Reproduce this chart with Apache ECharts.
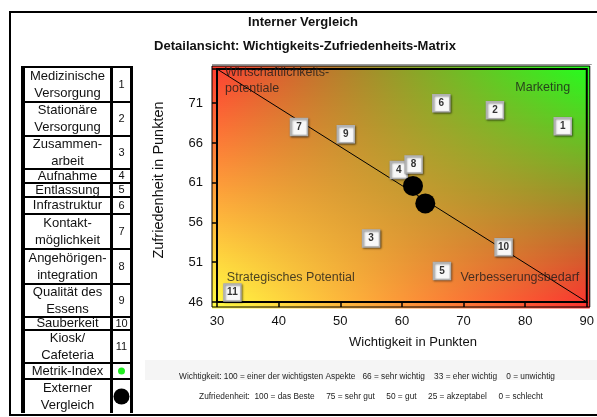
<!DOCTYPE html>
<html><head><meta charset="utf-8">
<script src="https://cdn.jsdelivr.net/npm/echarts@6/dist/echarts.min.js"></script>
<style>html,body{margin:0;padding:0;background:#fff}#c{width:597px;height:417px}</style>
</head><body><div id="c"></div>
<script>
// ---- data ----
const titleText = 'Interner Vergleich';
const subtitleText = 'Detailansicht: Wichtigkeits-Zufriedenheits-Matrix';
const xName = 'Wichtigkeit in Punkten';
const yName = 'Zufriedenheit in Punkten';
const xMin = 30, xMax = 90, xStep = 10;
const yMin = 46, yMax = 75.3, yStep = 5;
const itemIds = ['1','2','3','4','5','6','7','8','9','10','11'];
const itemX = [86.1, 75.1, 55.0, 59.5, 66.5, 66.4, 43.3, 61.9, 50.9, 76.5, 32.5];
const itemY = [68.1, 70.1, 54.0, 62.6, 49.9, 71.0, 68.0, 63.3, 67.1, 52.9, 47.2];
const extX = [61.8, 63.8];
const extY = [60.6, 58.4];
const legendNames = ['Medizinische\nVersorgung','Stationäre\nVersorgung','Zusammen-\narbeit','Aufnahme','Entlassung','Infrastruktur','Kontakt-\nmöglichkeit','Angehörigen-\nintegration','Qualität des\nEssens','Sauberkeit','Kiosk/\nCafeteria','Metrik-Index','Externer\nVergleich'];
const legendKeys = ['1','2','3','4','5','6','7','8','9','10','11','dot','circle'];
const quadNames = ['Wirtschaftlichkeits-\npotentiale','Marketing','Strategisches Potential','Verbesserungsbedarf'];
const quadX = [31.3, 78.4, 31.6, 69.5];
const quadY = [73.8, 73.0, 49.1, 49.1];
const diagX = [30, 90];
const diagY = [75.3, 46];
const footnotes = [
  'Wichtigkeit: 100 = einer der wichtigsten Aspekte   66 = sehr wichtig    33 = eher wichtig    0 = unwichtig',
  'Zufriedenheit:  100 = das Beste     75 = sehr gut     50 = gut     25 = akzeptabel     0 = schlecht'
];

// ---- chart ----
const FONT = '"Liberation Sans", Arial, sans-serif';
const chart = echarts.init(document.getElementById('c'), null, {renderer: 'canvas'});
const option = {
  animation: false,
  backgroundColor: '#fff',
  grid: {left: 217, right: 8, top: 69, bottom: 115, show: false},
  xAxis: {
    type: 'value', min: xMin, max: xMax, interval: xStep,
    axisLine: {show: true, onZero: false, lineStyle: {color: '#000', width: 1.5}},
    axisTick: {show: true, length: 5, lineStyle: {color: '#000', width: 1.5}},
    axisLabel: {fontSize: 13, color: '#111', margin: 13, fontFamily: FONT},
    splitLine: {show: false}
  },
  yAxis: {
    type: 'value', min: yMin, max: yMax, interval: yStep,
    axisLine: {show: true, onZero: false, lineStyle: {color: '#000', width: 1.5}},
    axisTick: {show: true, length: 5, lineStyle: {color: '#000', width: 1.5}},
    axisLabel: {fontSize: 13, color: '#111', margin: 14, fontFamily: FONT,
      formatter: v => (Math.abs(v - Math.round(v)) < 1e-6 ? String(Math.round(v)) : '')},
    splitLine: {show: false}
  },
  series: [
    {type: 'line', data: diagX.map((x, i) => [x, diagY[i]]), symbol: 'none', silent: true,
     lineStyle: {color: '#000', width: 1}, z: 3},
    {type: 'scatter', data: itemX.map((x, i) => ({value: [x, itemY[i]], name: itemIds[i]})),
     symbol: 'rect', symbolSize: 17, z: 4,
     itemStyle: {color: '#f8f8f8', borderColor: '#b0b0b0', borderWidth: 1.5,
       shadowBlur: 2, shadowColor: 'rgba(0,0,0,0.45)', shadowOffsetX: 1, shadowOffsetY: 1, opacity: 1},
     label: {show: true, position: 'inside', formatter: p => p.name, fontSize: 10, fontWeight: 'bold',
       color: '#333', fontFamily: FONT}},
    {type: 'scatter', data: extX.map((x, i) => [x, extY[i]]), symbol: 'circle', symbolSize: 20, z: 5,
     itemStyle: {color: '#000', opacity: 1}},
    {type: 'scatter', data: quadX.map((x, i) => ({value: [x, quadY[i]], name: quadNames[i]})),
     symbolSize: 0, silent: true, z: 6,
     label: {show: true, position: 'right', distance: 0, formatter: p => p.name, fontSize: 12.5,
       color: '#1a1a1a', fontFamily: FONT, lineHeight: 16}}
  ]
};
chart.setOption(option);

// ---- decorations ----
const p0 = chart.convertToPixel({gridIndex: 0}, [xMin, yMax]);
const p1 = chart.convertToPixel({gridIndex: 0}, [xMax, yMin]);
const gx0 = p0[0] - 5, gx1 = p1[0] + 3, gy0 = p0[1] - 3, gy1 = p1[1] + 5;
const TL = [255, 62, 50], TR = [35, 255, 30], BL = [255, 255, 66], BR = [255, 48, 48];
const lerp = (a, b, t) => a.map((v, k) => Math.round(v + (b[k] - v) * t));
const rgb = c => 'rgb(' + c.join(',') + ')';
const g = [];
g.push({type: 'rect', shape: {x: 10, y: 12, width: 600, height: 403}, style: {fill: 'none', stroke: '#000', lineWidth: 2}, z: 0});
// plot gradient
const step = 2;
for (let y = gy0; y < gy1; y += step) {
  const t = (y - gy0) / (gy1 - gy0);
  const l = lerp(TL, BL, t), r = lerp(TR, BR, t);
  g.push({type: 'rect', shape: {x: gx0, y: y, width: gx1 - gx0, height: step + 0.6}, z: 0,
    style: {fill: new echarts.graphic.LinearGradient(0, 0, 1, 0, [{offset: 0, color: rgb(l)}, {offset: 1, color: rgb(r)}])}});
}
g.push({type: 'rect', shape: {x: gx0, y: gy0, width: gx1 - gx0, height: gy1 - gy0}, style: {fill: 'none', stroke: '#000', lineWidth: 1}, z: 1});
g.push({type: 'line', shape: {x1: gx0, y1: gy0 - 1.5, x2: gx1 + 2, y2: gy0 - 1.5}, style: {stroke: '#999', lineWidth: 1}, z: 1});
g.push({type: 'rect', shape: {x: p0[0], y: p0[1], width: p1[0] - p0[0], height: p1[1] - p0[1]}, style: {fill: 'none', stroke: '#000', lineWidth: 2}, z: 1});
// titles
g.push({type: 'text', style: {text: titleText, x: 303, y: 22, textAlign: 'center', textVerticalAlign: 'middle', font: 'bold 13px ' + FONT, fill: '#111'}, z: 5});
g.push({type: 'text', style: {text: subtitleText, x: 305, y: 46, textAlign: 'center', textVerticalAlign: 'middle', font: 'bold 13px ' + FONT, fill: '#111'}, z: 5});
// axis names
g.push({type: 'text', style: {text: xName, x: 413, y: 342, textAlign: 'center', textVerticalAlign: 'middle', font: '13px ' + FONT, fill: '#111'}, z: 5});
g.push({type: 'text', rotation: Math.PI / 2, x: 159, y: 180, style: {text: yName, x: 0, y: 0, textAlign: 'center', textVerticalAlign: 'middle', font: '14.5px ' + FONT, fill: '#111'}, z: 5});
// footnote band
g.push({type: 'rect', shape: {x: 145, y: 360, width: 460, height: 20}, style: {fill: '#f5f5f5'}, z: 0});
g.push({type: 'text', style: {text: footnotes[0], x: 367, y: 377, textAlign: 'center', textVerticalAlign: 'middle', font: '8.3px ' + FONT, fill: '#222'}, z: 5});
g.push({type: 'text', style: {text: footnotes[1], x: 371, y: 397, textAlign: 'center', textVerticalAlign: 'middle', font: '8.3px ' + FONT, fill: '#222'}, z: 5});
// legend table
const bounds = [66, 101, 135, 168, 182, 196, 213, 248, 283, 316, 329, 362, 378, 413];
g.push({type: 'rect', shape: {x: 21, y: bounds[0], width: 112, height: bounds[bounds.length - 1] - bounds[0]}, style: {fill: '#000'}, z: 1});
legendNames.forEach((name, i) => {
  const y = bounds[i] + 2, h = bounds[i + 1] - bounds[i] - 2;
  g.push({type: 'rect', shape: {x: 25, y: y, width: 85, height: h}, style: {fill: '#fff'}, z: 2});
  g.push({type: 'rect', shape: {x: 113, y: y, width: 17, height: h}, style: {fill: '#fff'}, z: 2});
  g.push({type: 'text', style: {text: name, x: 67.5, y: y + h / 2, textAlign: 'center', textVerticalAlign: 'middle', font: '13px ' + FONT, lineHeight: 17, fill: '#111'}, z: 3});
  const key = legendKeys[i];
  if (key === 'dot') {
    g.push({type: 'circle', shape: {cx: 121.5, cy: y + h / 2, r: 3.5}, style: {fill: '#22ee22'}, z: 3});
  } else if (key === 'circle') {
    g.push({type: 'circle', shape: {cx: 121.5, cy: y + h / 2, r: 8}, style: {fill: '#000'}, z: 3});
  } else {
    g.push({type: 'text', style: {text: key, x: 121.5, y: y + h / 2, textAlign: 'center', textVerticalAlign: 'middle', font: '11px ' + FONT, fill: '#111'}, z: 3});
  }
});
chart.setOption({graphic: {elements: g}});
</script></body></html>
